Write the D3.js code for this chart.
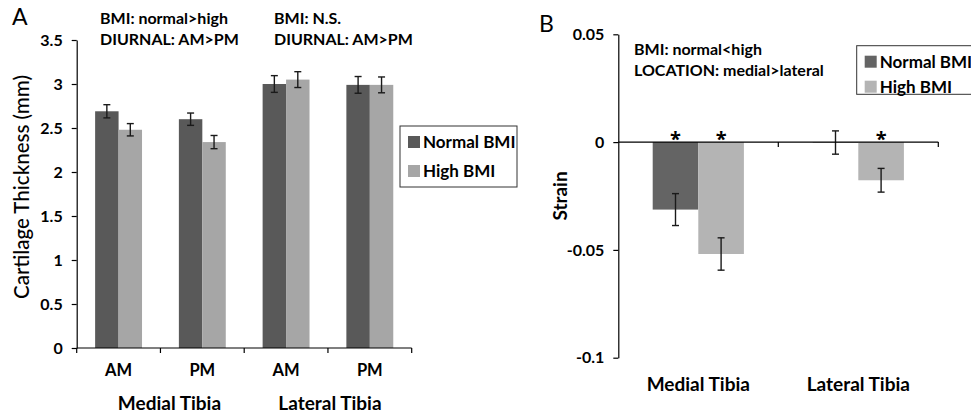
<!DOCTYPE html>
<html>
<head>
<meta charset="utf-8">
<script src="https://cdn.jsdelivr.net/npm/d3@7"></script>
<style>
  body { margin: 0; background: #fff; }
  svg text { font-family: Lato, "Open Sans", sans-serif; fill: #000; }
  .bold { font-weight: bold; }
</style>
</head>
<body>
<div id="chart"></div>
<script>
// ---- panel A data: cartilage thickness (mm) ----
var thicknessCats = ["Medial AM", "Medial PM", "Lateral AM", "Lateral PM"];
var thicknessTickLabels = ["AM", "PM", "AM", "PM"];
var thicknessGroups = ["Medial Tibia", "Lateral Tibia"];
var thicknessNormal = [2.69, 2.60, 3.00, 2.99];
var thicknessNormalErr = [0.075, 0.07, 0.095, 0.095];
var thicknessHigh = [2.48, 2.34, 3.05, 2.99];
var thicknessHighErr = [0.07, 0.075, 0.09, 0.09];
var thicknessTicks = [0, 0.5, 1, 1.5, 2, 2.5, 3, 3.5];
var thicknessNotes = [["BMI: normal>high", "DIURNAL: AM>PM"], ["BMI: N.S.", "DIURNAL: AM>PM"]];

// ---- panel B data: strain ----
var strainCats = ["Medial Tibia", "Lateral Tibia"];
var strainNormal = [-0.0313, -0.0002];
var strainNormalErr = [0.0074, 0.0054];
var strainHigh = [-0.0519, -0.0177];
var strainHighErr = [0.0075, 0.0055];
var strainNormalSig = [true, false];
var strainHighSig = [true, true];
var strainTicks = [-0.1, -0.05, 0, 0.05];
var strainNotes = ["BMI: normal<high", "LOCATION: medial>lateral"];

var series = ["Normal BMI", "High BMI"];
var colorA = d3.scaleOrdinal().domain(series).range(["#595959", "#a6a6a6"]);
var colorB = d3.scaleOrdinal().domain(series).range(["#646464", "#b4b4b4"]);

var svg = d3.select("#chart").append("svg")
  .attr("width", 971)
  .attr("height", 418);

// build rows for grouped bars
function rows(cats, normal, normalErr, high, highErr) {
  var out = [];
  cats.forEach(function(c, i) {
    out.push({cat: c, s: series[0], v: normal[i], e: normalErr[i], i: i});
    out.push({cat: c, s: series[1], v: high[i], e: highErr[i], i: i});
  });
  return out;
}

function drawBars(g, data, x, xs, y, color) {
  g.selectAll("rect.bar")
    .data(data)
    .enter()
    .append("rect")
      .attr("class", "bar")
      .attr("x", function(d) { return x(d.cat) + xs(d.s); })
      .attr("y", function(d) { return Math.min(y(d.v), y(0)); })
      .attr("width", xs.bandwidth())
      .attr("height", function(d) { return Math.abs(y(d.v) - y(0)); })
      .style("fill", function(d) { return color(d.s); });

  var eb = g.selectAll("g.err")
    .data(data)
    .enter()
    .append("g")
      .attr("class", "err")
      .attr("transform", function(d) { return "translate(" + (x(d.cat) + xs(d.s) + xs.bandwidth() / 2) + ",0)"; });
  eb.append("line")
    .attr("y1", function(d) { return y(d.v + d.e); })
    .attr("y2", function(d) { return y(d.v - d.e); });
  eb.append("line")
    .attr("x1", -3.5).attr("x2", 3.5)
    .attr("y1", function(d) { return y(d.v + d.e); })
    .attr("y2", function(d) { return y(d.v + d.e); });
  eb.append("line")
    .attr("x1", -3.5).attr("x2", 3.5)
    .attr("y1", function(d) { return y(d.v - d.e); })
    .attr("y2", function(d) { return y(d.v - d.e); });
  eb.selectAll("line").style("stroke", "#1a1a1a").style("stroke-width", 1.4);
}

function legend(g, x0, y0, w, h, gap, color) {
  g.append("rect")
    .attr("x", x0).attr("y", y0).attr("width", w).attr("height", h)
    .style("fill", "#fff").style("stroke", "#333").style("stroke-width", 1);
  var item = g.selectAll("g.leg")
    .data(series)
    .enter()
    .append("g")
      .attr("class", "leg")
      .attr("transform", function(d, i) { return "translate(" + (x0 + 8) + "," + (y0 + 16 + i * gap) + ")"; });
  item.append("rect")
    .attr("x", 0).attr("y", -6).attr("width", 12).attr("height", 12)
    .style("fill", function(d) { return color(d); });
  item.append("text")
    .attr("class", "bold")
    .attr("x", 15).attr("y", 6)
    .style("font-size", "17px")
    .text(function(d) { return d; });
}

function styleAxis(a) {
  a.select(".domain").style("stroke", "#000").style("stroke-width", 1.2);
  a.selectAll(".tick line").style("stroke", "#000").style("stroke-width", 1.2);
  a.selectAll(".tick text")
    .attr("class", "bold")
    .style("font-size", "16px")
    .style("font-family", "Lato, sans-serif")
    .style("fill", "#000");
}

// ================= Panel A =================
var gA = svg.append("g");
var xA = d3.scaleBand().domain(thicknessCats).range([76.7, 411.7]).paddingInner(0.44).paddingOuter(0.22);
var xsA = d3.scaleBand().domain(series).range([0, xA.bandwidth()]);
var yA = d3.scaleLinear().domain([0, 3.5]).range([348, 40]);

var yAxisA = gA.append("g")
  .attr("transform", "translate(76.7,0)")
  .call(d3.axisLeft(yA).tickValues(thicknessTicks).tickFormat(function(d) { return String(d); }).tickSize(5).tickSizeOuter(0).tickPadding(9));
styleAxis(yAxisA);

drawBars(gA, rows(thicknessCats, thicknessNormal, thicknessNormalErr, thicknessHigh, thicknessHighErr), xA, xsA, yA, colorA);

// x axis with ticks at category boundaries
var stepA = xA.step();
var boundsA = thicknessCats.map(function(c) { return xA(c) - (stepA - xA.bandwidth()) / 2; });
boundsA.push(boundsA[boundsA.length - 1] + stepA);
gA.append("line")
  .attr("x1", xA.range()[0]).attr("x2", xA.range()[1])
  .attr("y1", yA(0)).attr("y2", yA(0))
  .style("stroke", "#000").style("stroke-width", 1.2);
gA.selectAll("line.xt")
  .data(boundsA)
  .enter()
  .append("line")
    .attr("class", "xt")
    .attr("x1", function(d) { return d; }).attr("x2", function(d) { return d; })
    .attr("y1", yA(0)).attr("y2", yA(0) + 5)
    .style("stroke", "#000").style("stroke-width", 1.2);
gA.selectAll("text.xl")
  .data(thicknessCats)
  .enter()
  .append("text")
    .attr("class", "bold")
    .attr("x", function(d) { return xA(d) + xA.bandwidth() / 2; })
    .attr("y", 376)
    .attr("text-anchor", "middle")
    .style("font-size", "16.5px")
    .text(function(d, i) { return thicknessTickLabels[i]; });
gA.selectAll("text.gl")
  .data(thicknessGroups)
  .enter()
  .append("text")
    .attr("class", "bold")
    .attr("x", function(d, i) { return boundsA[i * 2 + 1] + (i === 0 ? 9 : 2); })
    .attr("y", 410)
    .attr("text-anchor", "middle")
    .style("font-size", "19px")
    .text(function(d) { return d; });

gA.append("text")
  .attr("transform", "translate(29,187) rotate(-90)")
  .attr("text-anchor", "middle")
  .style("font-size", "20.5px")
  .style("font-weight", 500)
  .text("Cartilage Thickness (mm)");

gA.append("text").attr("x", 12).attr("y", 25).style("font-size", "23px").text("A");

thicknessNotes.forEach(function(lines, k) {
  lines.forEach(function(t, j) {
    gA.append("text")
      .attr("class", "bold")
      .attr("x", k === 0 ? 100 : 274)
      .attr("y", 24 + j * 21)
      .style("font-size", "16px")
      .text(t);
  });
});

legend(gA, 400, 126, 117, 61, 29, colorA);

// ================= Panel B =================
var gB = svg.append("g");
var xB = d3.scaleBand().domain(strainCats).range([618.3, 938.3]).paddingInner(0.43).paddingOuter(0.215);
var xsB = d3.scaleBand().domain(series).range([0, xB.bandwidth()]);
var yB = d3.scaleLinear().domain([-0.1, 0.05]).range([357.7, 34.3]);

var yAxisB = gB.append("g")
  .attr("transform", "translate(618.3,0)")
  .call(d3.axisLeft(yB).tickValues(strainTicks).tickFormat(function(d) { return String(d); }).tickSize(5).tickSizeOuter(0).tickPadding(9));
styleAxis(yAxisB);

drawBars(gB, rows(strainCats, strainNormal, strainNormalErr, strainHigh, strainHighErr), xB, xsB, yB, colorB);

var stepB = xB.step();
var boundsB = strainCats.map(function(c) { return xB(c) - (stepB - xB.bandwidth()) / 2; });
boundsB.push(boundsB[boundsB.length - 1] + stepB);
gB.append("line")
  .attr("x1", xB.range()[0]).attr("x2", xB.range()[1])
  .attr("y1", yB(0)).attr("y2", yB(0))
  .style("stroke", "#000").style("stroke-width", 1.2);
gB.selectAll("line.xt")
  .data(boundsB.slice(1))
  .enter()
  .append("line")
    .attr("class", "xt")
    .attr("x1", function(d) { return d; }).attr("x2", function(d) { return d; })
    .attr("y1", yB(0)).attr("y2", yB(0) + 5)
    .style("stroke", "#000").style("stroke-width", 1.2);

// significance asterisks
var sig = [];
strainCats.forEach(function(c, i) {
  if (strainNormalSig[i]) sig.push({cat: c, s: series[0]});
  if (strainHighSig[i]) sig.push({cat: c, s: series[1]});
});
gB.selectAll("text.sig")
  .data(sig)
  .enter()
  .append("text")
    .attr("x", function(d) { return xB(d.cat) + xsB(d.s) + xsB.bandwidth() / 2; })
    .attr("y", yB(0) + 4)
    .attr("text-anchor", "middle")
    .style("font-family", "'Open Sans', sans-serif")
    .style("font-weight", "bold")
    .style("font-size", "20px")
    .text("*");

gB.selectAll("text.xl")
  .data(strainCats)
  .enter()
  .append("text")
    .attr("class", "bold")
    .attr("x", function(d) { return xB(d) + xB.bandwidth() / 2; })
    .attr("y", 391)
    .attr("text-anchor", "middle")
    .style("font-size", "19px")
    .text(function(d) { return d; });

gB.append("text")
  .attr("class", "bold")
  .attr("transform", "translate(567,196) rotate(-90)")
  .attr("text-anchor", "middle")
  .style("font-size", "19px")
  .text("Strain");

gB.append("text").attr("x", 539).attr("y", 32).style("font-size", "23px").text("B");

strainNotes.forEach(function(t, j) {
  gB.append("text")
    .attr("class", "bold")
    .attr("x", 634)
    .attr("y", 55 + j * 21)
    .style("font-size", "16px")
    .text(t);
});

legend(gB, 856.7, 45.7, 130, 48.6, 25, colorB);
</script>
</body>
</html>
